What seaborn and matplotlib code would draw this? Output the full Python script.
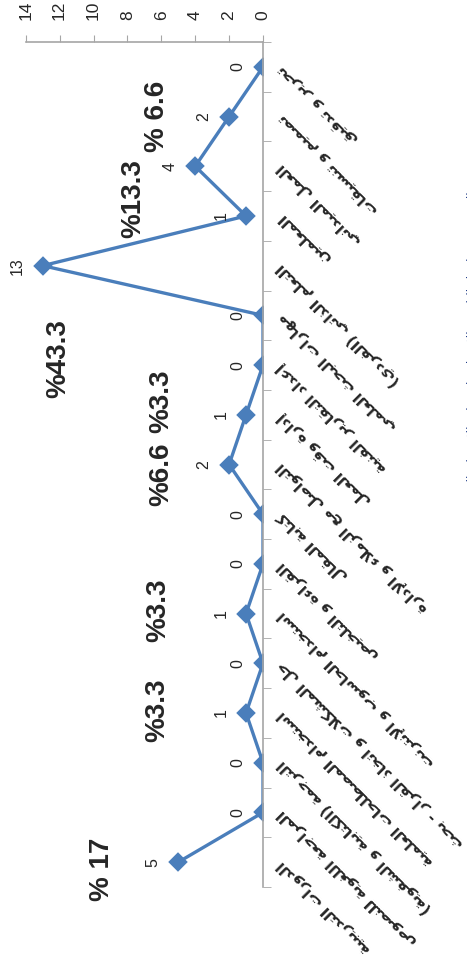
import numpy as np
import pandas as pd
import matplotlib
matplotlib.use('Agg')
import matplotlib.pyplot as plt
import seaborn as sns

# categories listed top to bottom (chart is drawn turned on its side)
categories = [
    'تحرير و تدقيق',
    'تصميم و تنسيقات',
    'العمل الميداني',
    'المعلمين',
    'التعلم الذاتي (الفردي)',
    'مهارات البحث العلمي',
    'إعداد التقارير الفنية',
    'إدارة وقت العمل',
    'التواصل مع الزملاء و الإدارة',
    'كتابة المقال',
    'القراءة و التلخيص',
    'استخدام الحاسوب و الإنترنت',
    'حل المشكلات و اتخاذ القرار - بحث',
    'استخدام المصطلحات العلمية',
    'الترجمة (الكتابية و الشفوية)',
    'المراجعة اللغوية للنصوص',
    'الدورات التدريبية',
]
values = [0, 2, 4, 1, 13, 0, 0, 1, 2, 0, 0, 1, 0, 1, 0, 0, 5]
value_ticks = [0, 2, 4, 6, 8, 10, 12, 14]
percent_labels = ['% 6.6', '%13.3', '%43.3', '%3.3', '%6.6', '%3.3', '%3.3', '% 17']
source_note = 'المصدر: من إعداد الباحث بالاعتماد على نتائج الاستبيان الموزع'

# minimal arabic shaping -> presentation forms in visual order
AR = {'ا': (0xFE8D, 2), 'أ': (0xFE83, 2), 'إ': (0xFE87, 2), 'آ': (0xFE81, 2),
      'ب': (0xFE8F, 4), 'ة': (0xFE93, 2), 'ت': (0xFE95, 4), 'ث': (0xFE99, 4),
      'ج': (0xFE9D, 4), 'ح': (0xFEA1, 4), 'خ': (0xFEA5, 4), 'د': (0xFEA9, 2),
      'ذ': (0xFEAB, 2), 'ر': (0xFEAD, 2), 'ز': (0xFEAF, 2), 'س': (0xFEB1, 4),
      'ش': (0xFEB5, 4), 'ص': (0xFEB9, 4), 'ض': (0xFEBD, 4), 'ط': (0xFEC1, 4),
      'ظ': (0xFEC5, 4), 'ع': (0xFEC9, 4), 'غ': (0xFECD, 4), 'ف': (0xFED1, 4),
      'ق': (0xFED5, 4), 'ك': (0xFED9, 4), 'ل': (0xFEDD, 4), 'م': (0xFEE1, 4),
      'ن': (0xFEE5, 4), 'ه': (0xFEE9, 4), 'و': (0xFEED, 2), 'ى': (0xFEEF, 2),
      'ي': (0xFEF1, 4), 'ؤ': (0xFE85, 2), 'ئ': (0xFE89, 4)}
LAM_ALEF = {'ا': 0xFEFB, 'أ': 0xFEF7, 'إ': 0xFEF9, 'آ': 0xFEF5}


def shape(text):
    out = []
    i = 0
    while i < len(text):
        ch = text[i]
        prev = text[i - 1] if i > 0 else ''
        joins_prev = prev in AR and AR[prev][1] == 4
        if ch == 'ل' and i + 1 < len(text) and text[i + 1] in LAM_ALEF:
            out.append(chr(LAM_ALEF[text[i + 1]] + int(joins_prev)))
            i += 2
            continue
        if ch not in AR:
            out.append({'(': ')', ')': '('}.get(ch, ch))
            i += 1
            continue
        base, n = AR[ch]
        nxt = text[i + 1] if i + 1 < len(text) else ''
        joins_next = n == 4 and nxt in AR
        if joins_prev and joins_next:
            form = 3
        elif joins_next:
            form = 2
        elif joins_prev:
            form = 1
        else:
            form = 0
        out.append(chr(base + form))
        i += 1
    return ''.join(reversed(out))


df = pd.DataFrame({'category': categories, 'value': values})

sns.set_style('white')
plt.rcParams['font.family'] = ['Liberation Sans', 'DejaVu Sans']

fig = plt.figure(figsize=(4.67, 9.57), dpi=100)
ax = fig.add_axes([25.7 / 467, 1 - 887 / 957, (263 - 25.7) / 467, 845 / 957])

sns.pointplot(data=df, x='value', y='category', orient='h', order=categories,
              color='#4A7EBB', markers='D', markersize=8, linewidth=2.4,
              errorbar=None, ax=ax)

ax.set_xlim(14, 0)
ax.set_ylim(16.5, -0.5)
ax.set_xlabel('')
ax.set_ylabel('')

grey = '#A6A6A6'
for s in ['left', 'bottom']:
    ax.spines[s].set_visible(False)
for s in ['top', 'right']:
    ax.spines[s].set_color(grey)
    ax.spines[s].set_linewidth(1.2)

ax.xaxis.tick_top()
ax.set_xticks(value_ticks)
ax.set_xticklabels(value_ticks, rotation=90, fontsize=12.5)
ax.tick_params(axis='x', direction='out', length=5, color=grey, pad=11)

ax.yaxis.tick_right()
ax.set_yticks(range(len(categories)))
ax.set_yticklabels([shape(c) for c in categories], rotation=135,
                   rotation_mode='anchor', ha='right', va='center',
                   fontsize=11, fontweight='bold', family='DejaVu Sans')
ax.set_yticks(np.arange(-0.5, len(categories), 1), minor=True)
ax.tick_params(axis='y', which='major', length=0, pad=12)
ax.tick_params(axis='y', which='minor', direction='out', length=6,
               color=grey, left=False, right=True)

for i, v in enumerate(values):
    ax.annotate(str(v), (v, i), xytext=(-25, 0), textcoords='offset pixels',
                rotation=90, ha='center', va='center', fontsize=11.5)

# free text boxes with the percentages
pct_pos = [(6.25, 1.0), (7.67, 2.64), (12.1, 5.86), (6.02, 6.72),
           (6.02, 8.19), (6.19, 10.93), (6.25, 12.94), (9.5, 16.14)]
for (px, py), lbl in zip(pct_pos, percent_labels):
    ax.text(px, py, lbl, rotation=90, fontsize=20, fontweight='bold',
            ha='center', va='center')

# source line, mostly cut off by the right edge as in the original
fig.text(473 / 467, 1 - 350 / 957, shape(source_note), rotation=90,
         ha='center', va='center', fontsize=9, color='#1F3C88',
         family='DejaVu Sans')

fig.savefig('out.png', dpi=100)
